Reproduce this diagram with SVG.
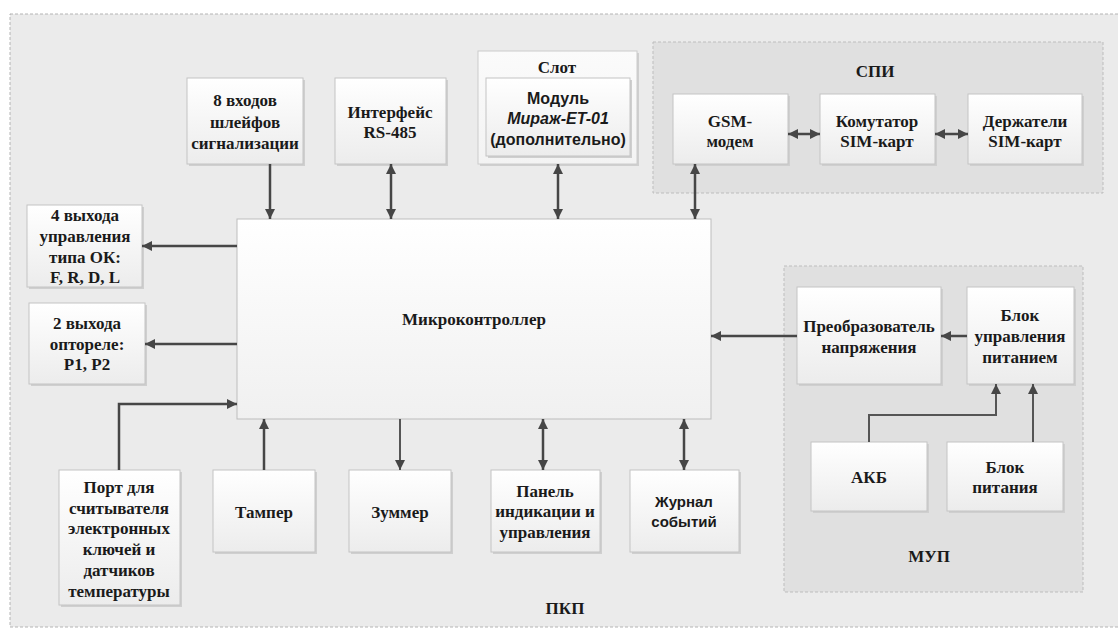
<svg xmlns="http://www.w3.org/2000/svg" width="1118" height="630" viewBox="0 0 1118 630">
<defs>
<linearGradient id="gBox" x1="0" y1="0" x2="0" y2="1">
<stop offset="0" stop-color="#ffffff"/>
<stop offset="1" stop-color="#ececec"/>
</linearGradient>
<linearGradient id="gMain" x1="0" y1="0" x2="0" y2="1">
<stop offset="0" stop-color="#ffffff"/>
<stop offset="1" stop-color="#f0f0f0"/>
</linearGradient>
<linearGradient id="gSlot" x1="0" y1="0" x2="0" y2="1">
<stop offset="0" stop-color="#fbfbfb"/>
<stop offset="1" stop-color="#f3f3f3"/>
</linearGradient>
<marker id="ah" viewBox="0 0 10 10" refX="10" refY="5" markerWidth="10" markerHeight="10" markerUnits="userSpaceOnUse" orient="auto-start-reverse">
<path d="M0,0 L10,5 L0,10 Z" fill="#464646"/>
</marker>
</defs>
<style>
.bg{fill:#ebebeb;stroke:#b4b4b4;stroke-width:1;stroke-dasharray:3 2}
.grp{fill:#e0e0e0;stroke:#bdbdbd;stroke-width:1;stroke-dasharray:3 2}
.box{fill:url(#gBox);stroke:#c4c4c4;stroke-width:1}
.sh{fill:#cfcfcf}
.t{font-family:"Liberation Serif","Times New Roman",serif;font-weight:bold;font-size:17px;fill:#1a1a1a;text-anchor:middle}
.s{font-family:"Liberation Sans",Arial,sans-serif;font-weight:bold;font-size:15px;fill:#1a1a1a;text-anchor:middle}
.m{font-size:16px}
.c{fill:none;stroke:#464646;stroke-width:2.5}
.c2{fill:none;stroke:#555555;stroke-width:2}
</style>
<rect class="bg" x="10" y="14" width="1120" height="613"/>
<g id="spi">
<rect class="grp" x="653" y="42" width="450" height="151"/>
<text class="t" x="875" y="77">СПИ</text>
</g>
<g id="mup">
<rect class="grp" x="784" y="266" width="299" height="326"/>
<text class="t" x="929" y="562">МУП</text>
</g>
<text class="t" x="565" y="614" id="pkp">ПКП</text>
<g id="inputs8">
<rect class="sh" x="189" y="80" width="116" height="86"/>
<rect class="box" x="187" y="78" width="116" height="86"/>
<text class="t" x="245" y="106">8 входов</text>
<text class="t" x="245" y="128">шлейфов</text>
<text class="t" x="245" y="149">сигнализации</text>
</g>
<g id="rs485">
<rect class="sh" x="337" y="80" width="111" height="86"/>
<rect class="box" x="335" y="78" width="111" height="86"/>
<text class="t" x="390" y="118">Интерфейс</text>
<text class="t" x="390" y="138">RS-485</text>
</g>
<g id="slot">
<rect class="sh" x="480" y="53" width="159" height="113"/>
<rect x="478" y="51" width="159" height="113" fill="url(#gSlot)" stroke="#cccccc" stroke-width="1"/>
<text class="t" x="557" y="73">Слот</text>
<rect class="sh" x="488" y="80" width="144" height="78"/>
<rect class="box" x="486" y="78" width="144" height="78"/>
<text class="s m" x="558" y="104">Модуль</text>
<text class="s m" x="558" y="124" font-style="italic">Мираж-ET-01</text>
<text class="s m" x="558" y="145">(дополнительно)</text>
</g>
<g id="gsm">
<rect class="sh" x="675" y="96" width="115" height="70"/>
<rect class="box" x="673" y="94" width="115" height="70"/>
<text class="t" x="730" y="127">GSM-</text>
<text class="t" x="730" y="147">модем</text>
</g>
<g id="komutator">
<rect class="sh" x="822" y="96" width="115" height="70"/>
<rect class="box" x="820" y="94" width="115" height="70"/>
<text class="t" x="877" y="127">Комутатор</text>
<text class="t" x="877" y="147">SIM-карт</text>
</g>
<g id="derzhateli">
<rect class="sh" x="970" y="96" width="114" height="70"/>
<rect class="box" x="968" y="94" width="114" height="70"/>
<text class="t" x="1025" y="127">Держатели</text>
<text class="t" x="1025" y="147">SIM-карт</text>
</g>
<g id="out4">
<rect class="sh" x="29" y="207" width="115" height="82"/>
<rect class="box" x="27" y="205" width="115" height="82"/>
<text class="t" x="85" y="221">4 выхода</text>
<text class="t" x="85" y="242">управления</text>
<text class="t" x="85" y="263">типа ОК:</text>
<text class="t" x="85" y="283">F, R, D, L</text>
</g>
<g id="out2">
<rect class="sh" x="31" y="305" width="116" height="81"/>
<rect class="box" x="29" y="303" width="116" height="81"/>
<text class="t" x="87" y="329">2 выхода</text>
<text class="t" x="87" y="350">оптореле:</text>
<text class="t" x="87" y="370">P1, P2</text>
</g>
<g id="mcu">
<rect x="237" y="219" width="474" height="200" fill="url(#gMain)" stroke="#bdbdbd" stroke-width="1"/>
<text class="t" x="474" y="325">Микроконтроллер</text>
</g>
<g id="port">
<rect class="sh" x="61" y="472" width="121" height="135"/>
<rect class="box" x="59" y="470" width="121" height="135"/>
<text class="t" x="119" y="493">Порт для</text>
<text class="t" x="119" y="514">считывателя</text>
<text class="t" x="119" y="534">электронных</text>
<text class="t" x="119" y="555">ключей и</text>
<text class="t" x="119" y="576">датчиков</text>
<text class="t" x="119" y="597">температуры</text>
</g>
<g id="tamper">
<rect class="sh" x="215" y="472" width="102" height="82"/>
<rect class="box" x="213" y="470" width="102" height="82"/>
<text class="t" x="264" y="518">Тампер</text>
</g>
<g id="zummer">
<rect class="sh" x="351" y="472" width="102" height="82"/>
<rect class="box" x="349" y="470" width="102" height="82"/>
<text class="t" x="400" y="518">Зуммер</text>
</g>
<g id="panel">
<rect class="sh" x="493" y="472" width="109" height="82"/>
<rect class="box" x="491" y="470" width="109" height="82"/>
<text class="t" x="545" y="497">Панель</text>
<text class="t" x="545" y="517">индикации и</text>
<text class="t" x="545" y="538">управления</text>
</g>
<g id="zhurnal">
<rect class="sh" x="632" y="472" width="109" height="82"/>
<rect class="box" x="630" y="470" width="109" height="82"/>
<text class="s" x="684" y="507">Журнал</text>
<text class="s" x="684" y="527">событий</text>
</g>
<g id="preobr">
<rect class="sh" x="799" y="289" width="144" height="97"/>
<rect class="box" x="797" y="287" width="144" height="97"/>
<text class="t" x="869" y="332">Преобразователь</text>
<text class="t" x="869" y="353">напряжения</text>
</g>
<g id="blokupr">
<rect class="sh" x="969" y="289" width="107" height="97"/>
<rect class="box" x="967" y="287" width="107" height="97"/>
<text class="t" x="1020" y="321">Блок</text>
<text class="t" x="1020" y="342">управления</text>
<text class="t" x="1020" y="363">питанием</text>
</g>
<g id="akb">
<rect class="sh" x="813" y="444" width="116" height="69"/>
<rect class="box" x="811" y="442" width="116" height="69"/>
<text class="t" x="869" y="483">АКБ</text>
</g>
<g id="blokpit">
<rect class="sh" x="949" y="444" width="116" height="69"/>
<rect class="box" x="947" y="442" width="116" height="69"/>
<text class="t" x="1005" y="473">Блок</text>
<text class="t" x="1005" y="493">питания</text>
</g>
<g id="connectors">
<path class="c" d="M270,164 V219" marker-end="url(#ah)"/>
<path class="c" d="M391,164 V219" marker-start="url(#ah)" marker-end="url(#ah)"/>
<path class="c" d="M558,164 V219" marker-start="url(#ah)" marker-end="url(#ah)"/>
<path class="c" d="M695,164 V219" marker-start="url(#ah)" marker-end="url(#ah)"/>
<path class="c" d="M788,134 H820" marker-start="url(#ah)" marker-end="url(#ah)"/>
<path class="c" d="M935,134 H968" marker-start="url(#ah)" marker-end="url(#ah)"/>
<path class="c" d="M237,246 H142" marker-end="url(#ah)"/>
<path class="c" d="M237,344 H145" marker-end="url(#ah)"/>
<path class="c" d="M119,470 V404 H237" marker-end="url(#ah)"/>
<path class="c" d="M264,470 V419" marker-end="url(#ah)"/>
<path class="c2" d="M400,419 V470" marker-end="url(#ah)"/>
<path class="c" d="M543,419 V470" marker-start="url(#ah)" marker-end="url(#ah)"/>
<path class="c" d="M684,419 V470" marker-start="url(#ah)" marker-end="url(#ah)"/>
<path class="c" d="M797,336 H711" marker-end="url(#ah)"/>
<path class="c" d="M967,336 H941" marker-end="url(#ah)"/>
<path class="c2" d="M869,442 V415 H996 V384" marker-end="url(#ah)"/>
<path class="c2" d="M1033,442 V384" marker-end="url(#ah)"/>
</g>
</svg>
